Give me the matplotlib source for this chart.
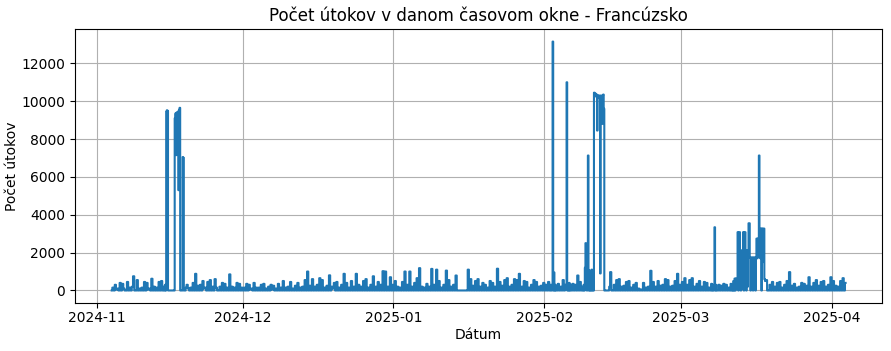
import pandas as pd
import matplotlib
matplotlib.use("Agg")
import matplotlib.pyplot as plt
import matplotlib.dates as mdates

plt.rcParams["path.simplify"] = False

# ---- 6-hourly attack counts (03h, 09h, 15h, 21h), from 2024-11-04 ----
series_start = "2024-11-04 03:00"
nov = [0, 150, 0, 300,   50, 100, 0, 400,   0, 350, 100, 0,   0, 450, 0, 150,
       0, 200, 750, 0,   0, 550, 0, 100,   0, 150, 0, 450,   0, 400, 50, 100,
       0, 620, 0, 200,   0, 150, 0, 450,   0, 500, 0, 200,   0, 300, 9500, 0,
       0, 0, 0, 0,   9300, 9400, 9600, 9500,   9400, 9650, 7050, 0,   0, 0, 300, 100,
       0, 150, 0, 400,   0, 880, 0, 250,   0, 300, 0, 500,   100, 150, 0, 450,
       0, 550, 0, 200,   0, 600, 150, 0,   0, 200, 0, 400,   0, 350, 0, 150,
       0, 850, 0, 200,   0, 150, 0, 400,   0, 350, 0, 150]
dec = [0, 150, 0, 350,   0, 300, 50, 100,   0, 400, 0, 150,   0, 150, 0, 300,
       0, 350, 0, 100,   0, 200, 0, 300,   50, 250, 0, 100,   0, 350, 0, 150,
       0, 500, 0, 150,   0, 200, 0, 450,   0, 100, 0, 250,   0, 400, 0, 150,
       0, 200, 0, 550,   0, 1000, 0, 250,   0, 600, 0, 200,   0, 300, 0, 650,
       0, 550, 0, 150,   0, 250, 0, 800,   0, 200, 100, 400,   0, 450, 0, 150,
       0, 300, 0, 880,   0, 400, 0, 150,   0, 500, 0, 200,   0, 880, 0, 300,
       0, 200, 0, 500,   0, 600, 0, 150,   0, 300, 0, 750,   0, 200, 0, 450,
       0, 300, 0, 1020,   0, 1000, 0, 200,   0, 700, 0, 300]
jan = [0, 500, 0, 200,   0, 150, 0, 450,   0, 1000, 0, 300,   0, 1000, 0, 200,
       0, 400, 0, 650,   0, 1180, 0, 200,   0, 150, 0, 350,   0, 200, 0, 1140,
       0, 300, 0, 1100,   0, 500, 0, 150,   0, 300, 0, 1050,   0, 550, 0, 200,
       0, 300, 0, 790,   0, 0, 0, 0,   0, 0, 0, 0,   0, 1100, 0, 600,
       0, 250, 0, 500,   0, 600, 0, 200,   0, 400, 0, 300,   0, 150, 0, 500,
       0, 400, 0, 200,   0, 1150, 0, 450,   0, 250, 0, 550,   0, 650, 0, 200,
       0, 300, 0, 600,   0, 550, 0, 880,   0, 200, 0, 500,   0, 450, 0, 150,
       0, 300, 0, 550,   0, 450, 0, 200,   0, 250, 0, 400]
feb = [0, 300, 0, 450,   0, 300, 0, 13150,   0, 950, 0, 350,   0, 200, 0, 550,
       0, 300, 0, 11000,   0, 200, 0, 350,   0, 300, 0, 790,   0, 450, 0, 200,
       0, 1200, 0, 2500,   7130, 0, 1060, 0,   10450, 10300, 10300, 10250,   900, 10300, 10150, 10300,
       9600, 0, 0, 0,   0, 0, 970, 0,   0, 300, 0, 550,   0, 600, 0, 200,
       0, 250, 0, 450,   0, 500, 0, 150,   0, 300, 0, 400,   0, 100, 0, 50,
       0, 400, 0, 150,   0, 200, 0, 1040,   0, 450, 0, 200,   0, 500, 0, 250,
       0, 300, 0, 600,   0, 550, 0, 200,   0, 250, 0, 500,   0, 880, 0, 300]
mar = [0, 450, 0, 650,   0, 300, 0, 550,   0, 650, 0, 200,   0, 350, 0, 500,
       0, 200, 0, 450,   0, 400, 0, 150,   0, 350, 0, 3340,   0, 100, 0, 300,
       0, 250, 0, 350,   0, 300, 0, 150,   0, 350, 0, 630,   3080, 2110, 3080, 2110,
       3550, 1740, 1740, 1740,   1740, 1740, 1740, 2740,   1740, 2740, 1740, 1740,
       2740, 7130, 3170, 3270,   3270, 3270, 600, 500,
       0, 0, 550, 0,   0, 300, 0, 450,   0, 200, 0, 400,   0, 450, 0, 150,
       0, 300, 0, 500,   0, 970, 0, 250,   0, 350, 0, 150,   0, 200, 0, 400,
       0, 350, 0, 250,   0, 700, 0, 200,   0, 400, 0, 550,   0, 250, 0, 450,
       0, 500, 0, 200,   0, 300, 0, 700]
apr = [0, 500, 0, 250,   0, 200, 0, 500,   0, 650, 0, 400]

# ---- 3-hourly detail around the attack waves ----
detail_starts = ["2024-11-15 00:00", "2025-02-02 12:00", "2025-02-05 12:00",
                 "2025-02-09 00:00", "2025-03-07 12:00", "2025-03-11 12:00"]
w_nov15 = [0, 300, 0, 9450, 9520, 9480, 0, 0, 0, 0, 0, 0, 0, 0, 0, 0, 0,
           9100, 9350, 7150, 9400, 9300, 9450, 5300, 9550, 9650,
           0, 0, 0, 0, 7050, 7000, 0, 0, 0, 150]
w_feb02 = [0, 200, 13150, 0, 950, 0, 300, 0]
w_feb05 = [200, 11000, 0, 300, 0, 400, 0, 300]
w_feb09 = [0, 300, 0, 1200, 2500, 2450, 0, 800, 7130, 0, 1060, 0,
           1000, 0, 1100, 0, 950, 0, 10450, 10300, 10400, 10250, 10350,
           8450, 10300, 10200, 10300, 10250, 900, 10300, 10150, 8800, 10300,
           10350, 9600, 0, 0, 0, 0, 0, 0, 0, 0, 200]
w_mar07 = [0, 300, 0, 200, 3340, 0, 300, 0]
w_mar11 = [0, 300, 0, 500, 0, 630, 0, 630, 100, 600,
           3080, 0, 3080, 3080, 2110, 0, 2110, 100, 2110,
           3080, 0, 3080, 3080, 2110, 0, 2110, 200, 2110,
           3550, 3550, 1740, 0, 1740, 100, 1740, 0, 1740, 200, 1740, 0, 1740,
           2740, 1700, 2740, 1800, 7130, 3170, 1700,
           3270, 0, 3270, 1500, 3270, 3270, 600, 500]
detail_values = [w_nov15, w_feb02, w_feb05, w_feb09, w_mar07, w_mar11]

# ---- assemble ----
base_vals = nov + dec + jan + feb + mar + apr
s = pd.Series(base_vals, index=pd.date_range(series_start, periods=len(base_vals), freq="6h"),
              dtype=float)
half = pd.Timedelta(hours=1.5)
parts = []
for start, vals in zip(detail_starts, detail_values):
    idx = pd.date_range(start, periods=len(vals), freq="3h")
    s = s[~((s.index >= idx[0] - half) & (s.index <= idx[-1] + half))]
    parts.append(pd.Series(vals, index=idx, dtype=float))
s = pd.concat([s] + parts).sort_index()

fig = plt.figure(figsize=(8.91, 3.51), dpi=100)
ax = fig.add_axes([0.0842, 0.137, 0.906, 0.78])
ax.plot(s.index, s.values, color="#1f77b4", linewidth=1.5, drawstyle="steps-mid")
ax.set_title("Počet útokov v danom časovom okne - Francúzsko", fontsize=12)
ax.set_xlabel("Dátum", labelpad=2)
ax.set_ylabel("Počet útokov")
ax.yaxis.set_label_coords(-0.069, 0.5)
ax.xaxis.set_major_locator(mdates.MonthLocator())
ax.xaxis.set_major_formatter(mdates.DateFormatter("%Y-%m"))
ax.tick_params(axis="x", pad=2.5)
ax.grid(True)
fig.savefig("out.png", dpi=100)
